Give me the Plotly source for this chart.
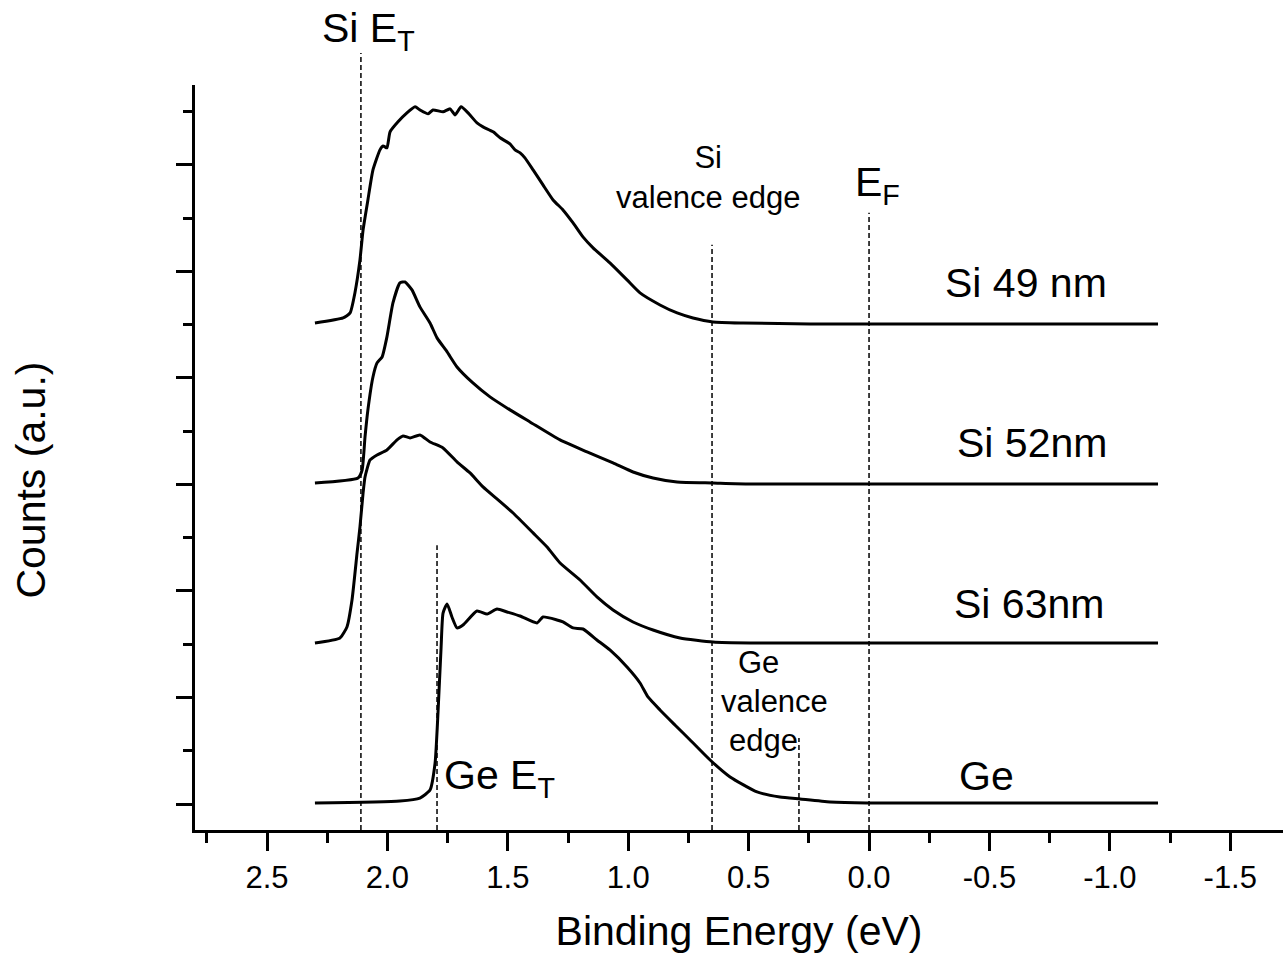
import plotly.graph_objects as go

# ---------------- data (binding energy in eV, counts in a.u., curves offset) ----------------
si49_e = [2.301, 2.184, 2.155, 2.135, 2.114, 2.101, 2.081, 2.060, 2.031, 2.018, 2.002, 1.989,
          1.956, 1.919, 1.885, 1.865, 1.831, 1.811, 1.769, 1.740, 1.719, 1.694, 1.665, 1.628,
          1.603, 1.561, 1.532, 1.491, 1.470, 1.449, 1.429, 1.395, 1.354, 1.312, 1.271, 1.229,
          1.188, 1.146, 1.076, 1.005, 0.951, 0.868, 0.797, 0.731, 0.648, 0.523, 0.245, -1.200]
si49_y = [4.516, 4.563, 4.610, 4.798, 5.108, 5.390, 5.671, 5.953, 6.141, 6.178, 6.160, 6.310,
          6.404, 6.488, 6.545, 6.516, 6.479, 6.516, 6.498, 6.526, 6.469, 6.545, 6.488, 6.394,
          6.357, 6.310, 6.254, 6.197, 6.141, 6.113, 6.066, 5.953, 5.812, 5.671, 5.577, 5.455,
          5.324, 5.221, 5.080, 4.920, 4.798, 4.685, 4.610, 4.563, 4.526, 4.516, 4.507, 4.507]

si52_e = [2.301, 2.122, 2.105, 2.093, 2.081, 2.060, 2.043, 2.022, 2.002, 1.977, 1.948, 1.927,
          1.898, 1.865, 1.823, 1.794, 1.752, 1.711, 1.645, 1.574, 1.491, 1.408, 1.283, 1.171,
          1.063, 0.980, 0.897, 0.797, 0.648, 0.494, -1.200]
si52_y = [3.014, 3.061, 3.136, 3.446, 3.700, 4.009, 4.141, 4.197, 4.385, 4.704, 4.892, 4.901,
          4.826, 4.667, 4.516, 4.376, 4.244, 4.103, 3.953, 3.822, 3.700, 3.587, 3.418, 3.305,
          3.202, 3.117, 3.061, 3.023, 3.014, 3.005, 3.005]

si63_e = [2.301, 2.197, 2.168, 2.147, 2.126, 2.114, 2.101, 2.093, 2.072, 2.043, 2.002, 1.960,
          1.935, 1.906, 1.865, 1.823, 1.769, 1.711, 1.657, 1.603, 1.545, 1.478, 1.395, 1.337,
          1.283, 1.200, 1.130, 1.063, 0.980, 0.897, 0.785, 0.648, 0.494, -1.200]
si63_y = [1.512, 1.559, 1.662, 1.915, 2.357, 2.601, 2.920, 3.070, 3.230, 3.277, 3.324, 3.418,
          3.455, 3.437, 3.465, 3.399, 3.343, 3.211, 3.108, 2.977, 2.864, 2.732, 2.545, 2.413,
          2.263, 2.103, 1.944, 1.822, 1.709, 1.634, 1.559, 1.521, 1.512, 1.512]

ge_e = [2.301, 1.948, 1.865, 1.823, 1.802, 1.790, 1.777, 1.769, 1.752, 1.732, 1.711, 1.686,
        1.628, 1.586, 1.545, 1.503, 1.449, 1.379, 1.354, 1.296, 1.271, 1.229, 1.188, 1.130,
        1.076, 1.005, 0.951, 0.918, 0.868, 0.806, 0.743, 0.660, 0.577, 0.465, 0.370, 0.287,
        0.162, 0.008, -1.200]
ge_y = [0.009, 0.028, 0.056, 0.131, 0.385, 0.854, 1.474, 1.793, 1.878, 1.756, 1.653, 1.681,
        1.812, 1.784, 1.831, 1.803, 1.765, 1.700, 1.756, 1.728, 1.709, 1.653, 1.643, 1.540,
        1.446, 1.286, 1.136, 1.005, 0.883, 0.742, 0.601, 0.413, 0.254, 0.113, 0.066, 0.047,
        0.019, 0.009, 0.009]

# reference energies (eV) and top of their dashed markers (a.u.)
si_et_e = 2.11
ge_et_e = 1.794
si_vb_e = 0.652
ge_vb_e = 0.291
ef_e = 0.0
ge_et_top = 2.43
si_vb_top = 5.25
ge_vb_top = 0.62
ef_top = 5.55

x_range = [2.799, -1.719]
y_range = [-0.244, 6.75]
x_tick_vals = [2.5, 2.0, 1.5, 1.0, 0.5, 0.0, -0.5, -1.0, -1.5]
x_tick_text = ["2.5", "2.0", "1.5", "1.0", "0.5", "0.0", "-0.5", "-1.0", "-1.5"]
x_minor_vals = [2.75, 2.25, 1.75, 1.25, 0.75, 0.25, -0.25, -0.75, -1.25]
y_tick_vals = [0, 1, 2, 3, 4, 5, 6]
y_minor_vals = [0.5, 1.5, 2.5, 3.5, 4.5, 5.5, 6.5]

FONT = "Liberation Sans, Arial, sans-serif"

fig = go.Figure()
for e, y, name in [(si49_e, si49_y, "Si 49 nm"), (si52_e, si52_y, "Si 52nm"),
                   (si63_e, si63_y, "Si 63nm"), (ge_e, ge_y, "Ge")]:
    fig.add_trace(go.Scatter(x=e, y=y, mode="lines", name=name,
                             line=dict(color="black", width=3, shape="spline", smoothing=0.5),
                             showlegend=False))

dash = dict(color="black", width=1.5, dash="5px,3px")
# Si E_T marker runs above the plotting area
fig.add_shape(type="line", xref="x", yref="paper", x0=si_et_e, x1=si_et_e, y0=0, y1=1.043, line=dash)
for xe, top in [(ge_et_e, ge_et_top), (si_vb_e, si_vb_top), (ge_vb_e, ge_vb_top), (ef_e, ef_top)]:
    fig.add_shape(type="line", xref="x", yref="y", x0=xe, x1=xe, y0=y_range[0], y1=top, line=dash)

big = dict(family=FONT, size=41, color="black")
mid = dict(family=FONT, size=31, color="black")
ann = [
    dict(text="Si 49 nm", x=-0.307, y=4.89, font=big, xanchor="left"),
    dict(text="Si 52nm", x=-0.357, y=3.39, font=big, xanchor="left"),
    dict(text="Si 63nm", x=-0.345, y=1.88, font=big, xanchor="left"),
    dict(text="Ge", x=-0.365, y=0.26, font=big, xanchor="left"),
    dict(text="Ge E<sub>T</sub>", x=1.775, y=0.24, font=big, xanchor="left"),
    dict(text="E<sub>F</sub>", x=0.066, y=5.81, font=big, xanchor="left"),
    dict(text="Si<br>valence edge", x=0.669, y=5.88, font=mid, xanchor="center"),
    # "Ge valence edge", three stacked lines
    dict(text="Ge", x=0.457, y=1.333, font=mid, xanchor="center"),
    dict(text="valence", x=0.392, y=0.958, font=mid, xanchor="center"),
    dict(text="edge", x=0.438, y=0.592, font=mid, xanchor="center"),
]
for a in ann:
    fig.add_annotation(xref="x", yref="y", showarrow=False, yanchor="middle", **a)
fig.add_annotation(text="Si E<sub>T</sub>", xref="x", yref="paper", x=2.278, y=1.073,
                   xanchor="left", yanchor="middle", showarrow=False, font=big)
# y-axis title (placed slightly below the axis centre, as in the original)
fig.add_annotation(text="Counts (a.u.)", xref="paper", yref="paper", x=-0.151, y=0.47,
                   xanchor="center", yanchor="middle", textangle=-90, showarrow=False, font=big)

fig.update_layout(
    width=1283, height=954,
    margin=dict(l=195, r=0, t=85, b=124),
    plot_bgcolor="white", paper_bgcolor="white",
    font=dict(family=FONT, color="black"),
    showlegend=False,
)
fig.update_xaxes(
    range=x_range, showline=True, linewidth=3, linecolor="black", mirror=False,
    showgrid=False, zeroline=False,
    ticks="outside", ticklen=18, tickwidth=3, tickcolor="black",
    tickmode="array", tickvals=x_tick_vals, ticktext=x_tick_text,
    tickfont=dict(family=FONT, size=31, color="black"),
    minor=dict(tickmode="array", tickvals=x_minor_vals, ticks="outside",
               ticklen=10, tickwidth=3, tickcolor="black", showgrid=False),
    title=dict(text="Binding Energy (eV)", font=big, standoff=24),
)
fig.update_yaxes(
    range=y_range, showline=True, linewidth=3, linecolor="black",
    showgrid=False, zeroline=False, showticklabels=False,
    ticks="outside", ticklen=16, tickwidth=3, tickcolor="black",
    tickmode="array", tickvals=y_tick_vals,
    minor=dict(tickmode="array", tickvals=y_minor_vals, ticks="outside",
               ticklen=9, tickwidth=3, tickcolor="black", showgrid=False),
)

fig.write_html("out.html")
